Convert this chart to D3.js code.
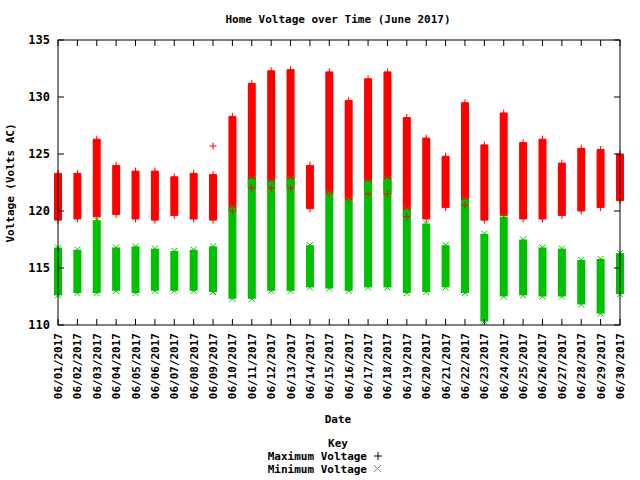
<!DOCTYPE html><html><head><meta charset="utf-8">
<script src="https://cdn.jsdelivr.net/npm/d3@7"></script>
<style>body{margin:0;background:#fff}text{font-family:"DejaVu Sans Mono",monospace;font-size:11px;fill:#000;font-weight:bold}</style>
</head><body><svg id="c" width="640" height="480"></svg><script>
const dates=["06/01/2017","06/02/2017","06/03/2017","06/04/2017","06/05/2017","06/06/2017","06/07/2017","06/08/2017","06/09/2017","06/10/2017","06/11/2017","06/12/2017","06/13/2017","06/14/2017","06/15/2017","06/16/2017","06/17/2017","06/18/2017","06/19/2017","06/20/2017","06/21/2017","06/22/2017","06/23/2017","06/24/2017","06/25/2017","06/26/2017","06/27/2017","06/28/2017","06/29/2017","06/30/2017"];
const maxLow=[119.2,119.3,119.5,119.7,119.3,119.2,119.6,119.3,119.2,120.0,122.0,122.0,122.0,120.2,121.5,121.0,121.5,121.5,119.5,119.3,120.3,120.5,119.2,119.6,119.3,119.3,119.6,120.0,120.3,120.9];
const maxHigh=[123.3,123.3,126.3,124.0,123.5,123.5,123.0,123.3,123.2,128.3,131.2,132.3,132.4,124.0,132.2,129.7,131.6,132.2,128.2,126.4,124.8,129.5,125.8,128.6,126.0,126.3,124.2,125.5,125.4,125.0];
const maxOut=[null,null,null,null,null,null,null,null,125.7,null,null,null,null,null,null,null,null,null,null,null,null,null,null,null,null,null,null,null,null,null];
const minLow=[112.6,112.8,112.8,113.0,112.8,113.0,113.0,113.0,112.9,112.3,112.3,113.0,113.0,113.3,113.2,113.0,113.3,113.3,112.8,112.9,113.3,112.8,110.3,112.5,112.6,112.5,112.5,111.8,111.0,112.7];
const minHigh=[116.8,116.6,119.2,116.8,116.9,116.7,116.5,116.6,116.9,120.3,122.8,122.6,122.8,117.0,121.6,121.0,122.6,122.8,120.1,118.9,117.0,121.0,118.0,119.5,117.5,116.8,116.7,115.7,115.8,116.3];
const yTicks=[110,115,120,125,130,135];
const svg=d3.select("#c");
const L=58,R=620,T=40,B=325;
const x=d3.scalePoint().domain(dates).range([L,R]);
const y=d3.scaleLinear().domain([110,135]).range([B,T]);
const g=svg.append("g");
const w=8;
g.selectAll(".r").data(dates).join("rect").attr("x",d=>x(d)-w/2).attr("width",w)
 .attr("y",(d,i)=>y(maxHigh[i])).attr("height",(d,i)=>y(maxLow[i])-y(maxHigh[i])).attr("fill","#ff0000");
g.selectAll(".g").data(dates).join("rect").attr("x",d=>x(d)-w/2).attr("width",w)
 .attr("y",(d,i)=>y(minHigh[i])).attr("height",(d,i)=>y(minLow[i])-y(minHigh[i])).attr("fill","#00c000");
const plus=(cx,cy,c)=>{g.append("path").attr("d",`M${cx-3.5},${cy}h7M${cx},${cy-3.5}v7`).attr("stroke",c).attr("fill","none");};
const cross=(cx,cy,c)=>{g.append("path").attr("d",`M${cx-3},${cy-3}l6,6M${cx-3},${cy+3}l6,-6`).attr("stroke",c).attr("fill","none");};
dates.forEach((d,i)=>{plus(x(d),y(maxHigh[i]),"#ff0000");plus(x(d),y(maxLow[i]),"#ff0000");
 if(maxOut[i]!=null)plus(x(d),y(maxOut[i]),"#ff0000");
 cross(x(d),y(minHigh[i]),"#00c000");cross(x(d),y(minLow[i]),"#00c000");});
svg.append("rect").attr("x",L).attr("y",T).attr("width",R-L).attr("height",B-T).attr("fill","none").attr("stroke","#000");
yTicks.forEach(v=>{svg.append("path").attr("d",`M${L},${y(v)}h6M${R},${y(v)}h-6`).attr("stroke","#000");
 svg.append("text").attr("x",L-8).attr("y",y(v)+4).attr("text-anchor","end").style("font-size","12px").text(v);});
dates.forEach(d=>{svg.append("path").attr("d",`M${x(d)},${B}v-6M${x(d)},${T}v6`).attr("stroke","#000");
 svg.append("text").attr("transform",`translate(${x(d)+4},${B+8}) rotate(-90)`).attr("text-anchor","end").text(d);});
svg.append("text").attr("x",338).attr("y",23).attr("text-anchor","middle").text("Home Voltage over Time (June 2017)");
svg.append("text").attr("transform","translate(14,183) rotate(-90)").attr("text-anchor","middle").text("Voltage (Volts AC)");
svg.append("text").attr("x",338).attr("y",423).attr("text-anchor","middle").text("Date");
svg.append("text").attr("x",338).attr("y",447).attr("text-anchor","middle").text("Key");
svg.append("text").attr("x",367).attr("y",460).attr("text-anchor","end").text("Maximum Voltage");
svg.append("text").attr("x",367).attr("y",473).attr("text-anchor","end").text("Minimum Voltage");
svg.append("path").attr("d","M374,456h8M378,452v8").attr("stroke","#000");
svg.append("path").attr("d","M374,465l7,7M374,472l7,-7").attr("stroke","#888");
</script></body></html>
